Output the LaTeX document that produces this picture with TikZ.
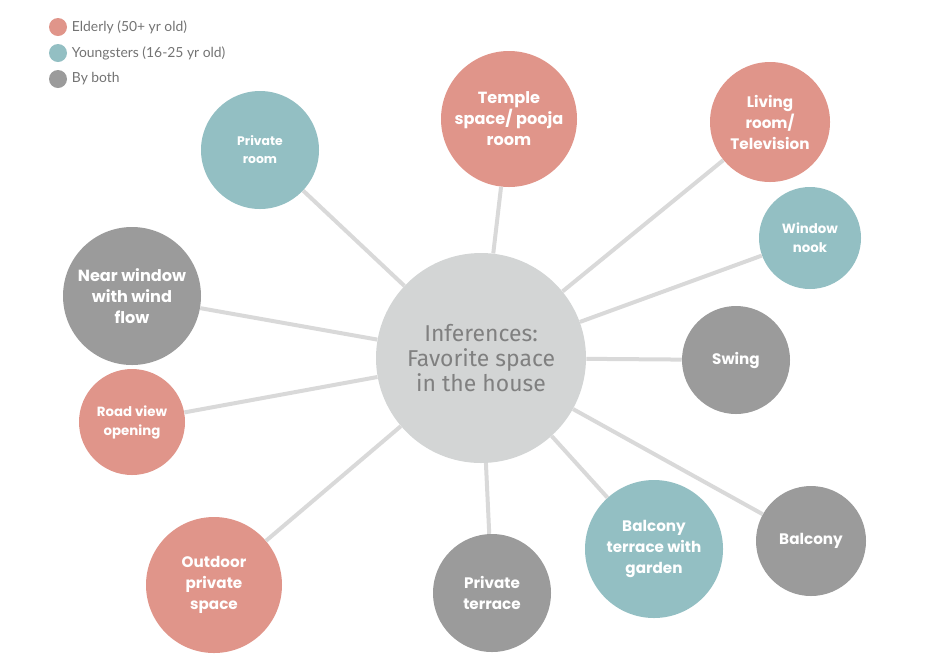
\documentclass[tikz,border=0pt]{standalone}
\usepackage{fontspec}
\setmainfont{Poppins}
\newfontfamily\centerfont{Fira Sans}
\newfontfamily\legendfont{Lato}
\definecolor{elder}{HTML}{E0958A}
\definecolor{young}{HTML}{93BFC3}
\definecolor{both}{HTML}{9B9B9B}
\definecolor{hub}{HTML}{D3D5D5}
\definecolor{spoke}{HTML}{D9D9D9}
\newcommand{\px}{0.75pt}
\tikzset{
  bubble/.style={circle, inner sep=0pt, align=center, text=white, font=\bfseries\fontsize{11.4}{15.75}\selectfont},
  smalltext/.style={font=\bfseries\fontsize{10}{14.25}\selectfont},
  tinytext/.style={font=\bfseries\fontsize{9.3}{13.5}\selectfont},
  bigtext/.style={font=\bfseries\fontsize{12.1}{15.75}\selectfont},
  dot/.style={circle, inner sep=0pt, minimum size=18*\px},
  legendtext/.style={right, text=black!55, font=\legendfont\fontsize{10.4}{12}\selectfont}
}
\begin{document}
\begin{tikzpicture}[x=\px, y=-\px]
  \useasboundingbox (0,0) rectangle (944,658);
  % hub
  \node[circle, fill=hub, minimum size=210*\px, align=center, text=black!50,
        font=\centerfont\fontsize{17.2}{18.5}\selectfont] (hub) at (481,358)
        {Inferences:\\Favorite space\\in the house};
  % spaces
  \node[bubble, tinytext, fill=young, minimum size=118*\px] (room) at (260,150) {Private\\room};
  \node[bubble, bigtext, fill=elder, minimum size=136*\px] (temple) at (509,119) {Temple\\space/ pooja\\room};
  \node[bubble, fill=elder, minimum size=120*\px] (living) at (770,122) {Living\\room/\\Television};
  \node[bubble, smalltext, fill=young, minimum size=102*\px] (nook) at (810,238) {Window\\nook};
  \node[bubble, fill=both, minimum size=108*\px] (swing) at (736,360) {Swing};
  \node[bubble, fill=both, minimum size=110*\px] (balcony) at (811,541) {Balcony};
  \node[bubble, fill=young, minimum size=138*\px] (garden) at (654,549) {Balcony\\terrace with\\garden};
  \node[bubble, fill=both, minimum size=118*\px] (terrace) at (492,593) {Private\\terrace};
  \node[bubble, fill=elder, minimum size=136*\px] (outdoor) at (214,585) {Outdoor\\private\\space};
  \node[bubble, smalltext, fill=elder, minimum size=106*\px] (road) at (132,422) {Road view\\opening};
  \node[bubble, bigtext, fill=both, minimum size=138*\px] (wind) at (132,296) {Near window\\with wind\\flow};
  % spokes
  \foreach \n in {room,temple,living,nook,swing,balcony,garden,terrace,outdoor,road,wind}
    \draw[spoke, line width=4*\px] (hub) -- (\n);
  % legend
  \node[dot, fill=elder] (eld) at (58,27) {};
  \node[legendtext] at (eld.east) {Elderly (50+ yr old)};
  \node[dot, fill=young] (yng) at (58,53) {};
  \node[legendtext] at (yng.east) {Youngsters (16-25 yr old)};
  \node[dot, fill=both] (bth) at (58,79) {};
  \node[legendtext] at (bth.east) {By both};
\end{tikzpicture}
\end{document}
